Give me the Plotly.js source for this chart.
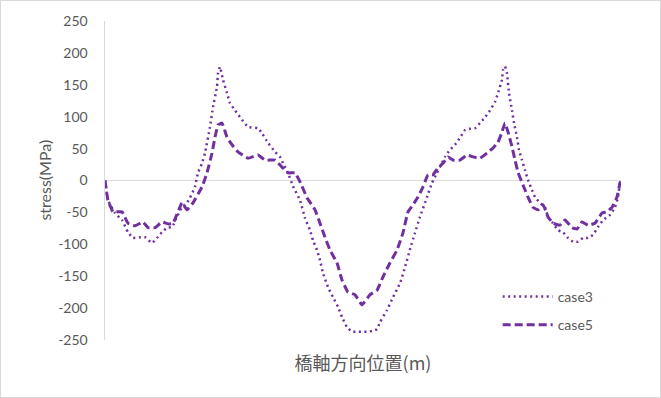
<!DOCTYPE html>
<html>
<head>
<meta charset="utf-8">
<script src="https://cdn.plot.ly/plotly-3.0.1.min.js"></script>
<style>
  html, body { margin: 0; padding: 0; background: #fff; }
  #frame { position: absolute; left: 0; top: 0; width: 659px; height: 396px; border: 1px solid #d9d9d9; }
  #chart { position: absolute; left: 0; top: 0; width: 661px; height: 398px; }
</style>
</head>
<body>
<div id="frame"></div>
<div id="chart"></div>
<script>
// Position along the bridge axis (no tick labels in the original; arbitrary units)
const pos3 = [0,3,10,17,23,28,35,40,47,52,57,62,67,72,77,82,85,90,93,97,100,105,108,112,113,115,118,122,125,130,137,143,153,157,163,170,175,178,183,188,195,200,205,208,212,215,218,223,228,233,237,242,247,252,257,262,267,272,275,282,288,295,300,305,310,315,322,327,332,335,340,345,350,355,360,365,370,375,380,385,390,393,397,398,400,402,404,407,409,412,414,417,420,423,427,430,435,440,443,448,453,458,463,468,473,478,483,488,493,498,505,510,513,515,516];
const case3 = [0,-31,-51,-62,-81,-90,-89,-89,-98,-90,-81,-74,-73,-57,-42,-35,-27,-10,12,27,43,84,115,147,168,178,158,137,121,110,95,84,82,74,59,45,37,27,12,-9,-31,-59,-78,-94,-109,-125,-145,-167,-183,-198,-214,-230,-237,-237,-237,-237,-236,-233,-222,-203,-183,-161,-136,-108,-82,-57,-26,-4,12,21,37,48,56,67,79,81,82,90,99,110,123,137,158,173,179,168,137,110,90,68,48,32,16,1,-15,-26,-35,-42,-57,-67,-78,-81,-90,-96,-96,-90,-90,-85,-73,-62,-54,-42,-26,-4,0];

const pos5 = [0,3,8,17,23,30,38,43,50,57,63,68,77,82,88,97,102,107,110,113,117,122,127,133,143,153,160,170,177,183,190,195,202,210,215,220,225,232,237,243,250,257,265,272,278,285,292,298,303,308,313,318,323,328,333,338,343,348,355,362,368,375,382,388,393,397,400,403,407,410,413,418,423,428,433,438,443,448,455,460,467,472,477,483,490,497,502,507,512,515,516];
const case5 = [0,-31,-49,-49,-67,-71,-65,-74,-74,-65,-68,-67,-35,-46,-35,-10,12,43,68,87,90,68,56,45,35,40,32,32,21,12,12,-2,-27,-46,-67,-89,-109,-129,-156,-175,-179,-195,-179,-172,-151,-129,-109,-82,-49,-38,-26,-10,9,9,20,27,37,32,32,40,37,35,43,51,60,76,90,76,53,32,13,-7,-26,-42,-46,-38,-57,-67,-70,-62,-74,-76,-65,-70,-67,-51,-49,-42,-26,-4,0];

const seriesNames = ['case3', 'case5'];
const yTicks = [-250,-200,-150,-100,-50,0,50,100,150,200,250];
const yTitle = 'stress(MPa)';
const xTitle = '橋軸方向位置(m)';

const purple = '#7030A0';
const txt = '#595959';

const traces = [
  {
    x: pos3, y: case3, name: seriesNames[0], type: 'scatter', mode: 'lines',
    legendgroup: 'a',
    line: { color: purple, width: 2.5, dash: '2px,3.5px', shape: 'spline', smoothing: 0.3 }
  },
  {
    x: pos5, y: case5, name: seriesNames[1], type: 'scatter', mode: 'lines',
    legendgroup: 'b',
    line: { color: purple, width: 3, dash: '8px,4px', shape: 'spline', smoothing: 0.3 }
  }
];

const layout = {
  width: 661, height: 398,
  paper_bgcolor: 'rgba(0,0,0,0)', plot_bgcolor: 'rgba(0,0,0,0)',
  margin: { l: 105, r: 40, t: 21, b: 58, pad: 0 },
  font: { family: 'Lato, "Noto Sans CJK JP", sans-serif', color: txt, size: 14 },
  showlegend: true,
  legend: {
    x: 0.761, y: 0.185, xanchor: 'left', yanchor: 'top',
    bgcolor: 'rgba(0,0,0,0)', font: { size: 14, color: txt },
    traceorder: 'grouped', tracegroupgap: 7, itemwidth: 50
  },
  xaxis: {
    range: [0, 516], showgrid: false, zeroline: false, showline: false,
    showticklabels: false, ticks: '',
    title: { text: xTitle, font: { family: '"Noto Sans CJK JP", sans-serif', size: 18, color: txt }, standoff: 17 }
  },
  yaxis: {
    range: [-250, 250], tickvals: yTicks, ticktext: yTicks.map(String),
    showgrid: false, showline: true, linecolor: '#d9d9d9', linewidth: 1.5,
    zeroline: true, zerolinecolor: '#d9d9d9', zerolinewidth: 1.5,
    ticks: 'outside', ticklen: 13, tickcolor: 'rgba(0,0,0,0)',
    tickfont: { size: 14, color: txt }
  },
  annotations: [{
    text: yTitle, xref: 'paper', yref: 'paper', x: -0.118, y: 0.5,
    xanchor: 'center', yanchor: 'middle', textangle: -90, showarrow: false,
    font: { size: 16, color: txt }
  }]
};

Plotly.newPlot('chart', traces, layout, { staticPlot: true, displayModeBar: false });
</script>
</body>
</html>
